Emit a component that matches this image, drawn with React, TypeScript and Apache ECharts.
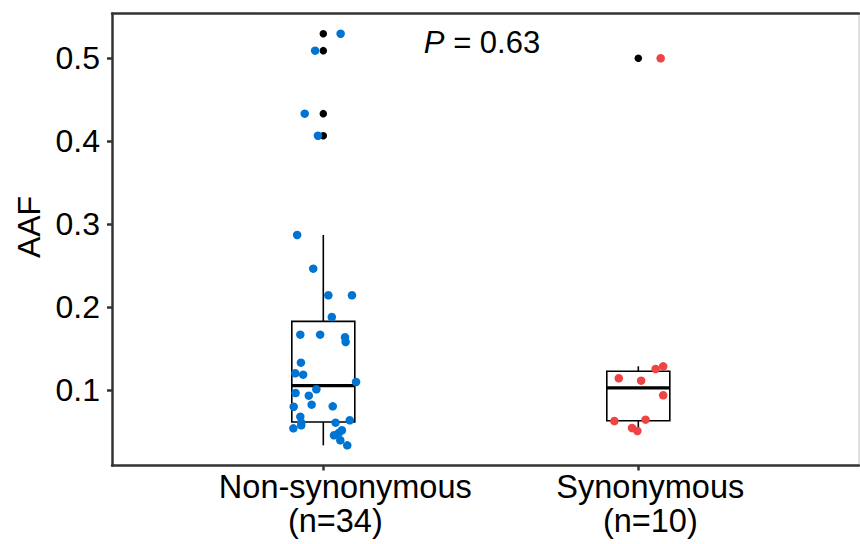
import React, { useEffect, useRef } from 'react';
import * as echarts from 'echarts';

const categories = ['Non-synonymous', 'Synonymous'];
const counts = [34, 10];

// AAF values, with the horizontal jitter offset (in category units) of each point
const nonsynAAF = [
  0.5296, 0.5092, 0.4333, 0.4067, 0.2871, 0.2465, 0.2145, 0.2145, 0.1883, 0.167,
  0.167, 0.1639, 0.1582, 0.1333, 0.1205, 0.1188, 0.11, 0.1012, 0.0967, 0.0935,
  0.0827, 0.0807, 0.0802, 0.0682, 0.0639, 0.061, 0.061, 0.0578, 0.0542, 0.0518,
  0.0486, 0.0458, 0.0398, 0.0337,
];
const nonsynJitter = [
  0.055, -0.026, -0.059, -0.017, -0.083, -0.032, 0.016, 0.091, 0.027, -0.073,
  -0.01, 0.069, 0.071, -0.071, -0.089, -0.064, 0.104, -0.022, -0.088, -0.046,
  -0.037, 0.03, -0.094, -0.073, 0.084, 0.039, -0.07, -0.07, -0.095, 0.059,
  0.049, 0.034, 0.054, 0.076,
];
const synAAF = [0.5, 0.1289, 0.1257, 0.1145, 0.1116, 0.094, 0.0646, 0.063, 0.0546, 0.051];
const synJitter = [0.071, 0.079, 0.055, -0.062, 0.009, 0.079, 0.023, -0.076, -0.02, -0.003];

const yTicks = [0.1, 0.2, 0.3, 0.4, 0.5];
const pValue = '0.63';

const COLORS = ['#0074D2', '#F04343'];
const FONT = 'Liberation Sans, Arial, Helvetica, sans-serif';

function quantile(sorted: number[], p: number) {
  const h = (sorted.length - 1) * p;
  const lo = Math.floor(h);
  const hi = Math.min(lo + 1, sorted.length - 1);
  return sorted[lo] + (h - lo) * (sorted[hi] - sorted[lo]);
}

function boxStats(values: number[]) {
  const s = [...values].sort((a, b) => a - b);
  const q1 = quantile(s, 0.25);
  const med = quantile(s, 0.5);
  const q3 = quantile(s, 0.75);
  const iqr = q3 - q1;
  const lf = q1 - 1.5 * iqr;
  const hf = q3 + 1.5 * iqr;
  const inside = s.filter((v) => v >= lf && v <= hf);
  const outliers = s.filter((v) => v < lf || v > hf);
  return { lo: inside[0], q1, med, q3, hi: inside[inside.length - 1], outliers };
}

export default function App() {
  const ref = useRef<HTMLDivElement>(null);
  useEffect(() => {
    if (!ref.current) return;
    const chart = echarts.init(ref.current, null, { renderer: 'svg' });
    const groups = [nonsynAAF, synAAF];
    const jitters = [nonsynJitter, synJitter];
    const stats = groups.map(boxStats);
    const boxData = stats.map((st, i) => [i + 1, st.lo, st.q1, st.med, st.q3, st.hi]);
    const outlierData: number[][] = [];
    stats.forEach((st, i) => st.outliers.forEach((v) => outlierData.push([i + 1, v])));

    const xMin = 0.3292;
    const xMax = 2.7006;
    const yMin = 0.0094;
    const yMax = 0.5537;
    const LH = 34;

    const option: any = {
      animation: false,
      backgroundColor: '#ffffff',
      textStyle: { fontFamily: FONT },
      grid: { left: 112, right: 1, top: 13.7, bottom: 78.5 },
      xAxis: [
        {
          type: 'value',
          min: xMin,
          max: xMax,
          splitLine: { show: false },
          axisLine: { show: true, onZero: false, lineStyle: { color: '#333333', width: 2.5 } },
          axisTick: { show: true, length: 5, lineStyle: { color: '#333333', width: 2.5 }, customValues: [1, 2] },
          axisLabel: {
            customValues: [1, 2],
            margin: 4,
            color: '#000',
            fontSize: 32,
            fontFamily: FONT,
            formatter: (v: number) => {
              const i = Math.round(v) - 1;
              if (i === 0) return `{a|${categories[0]}}\n{b|(n=${counts[0]})}`;
              return `{c|${categories[1]}}\n{c|(n=${counts[1]})}`;
            },
            rich: {
              a: { fontSize: 32.5, fontFamily: FONT, color: '#000', lineHeight: LH, padding: [0, 0, 0, 44] },
              b: { fontSize: 32.5, fontFamily: FONT, color: '#000', lineHeight: LH, padding: [0, 0, 0, 24] },
              c: { fontSize: 32.5, fontFamily: FONT, color: '#000', lineHeight: LH, padding: [0, 0, 0, 24] },
            },
          },
        },
        {
          type: 'value',
          position: 'top',
          min: xMin,
          max: xMax,
          splitLine: { show: false },
          axisLine: { show: true, onZero: false, lineStyle: { color: '#333333', width: 2.5 } },
          axisTick: { show: false },
          axisLabel: { show: false },
        },
      ],
      yAxis: [
        {
          type: 'value',
          min: yMin,
          max: yMax,
          splitLine: { show: false },
          axisLine: { show: true, onZero: false, lineStyle: { color: '#333333', width: 2.5 } },
          axisTick: { show: true, length: 5, lineStyle: { color: '#333333', width: 2.5 }, customValues: yTicks },
          axisLabel: {
            customValues: yTicks,
            margin: 12,
            color: '#000',
            fontSize: 32,
            fontFamily: FONT,
            formatter: (v: number) => v.toFixed(1),
          },
        },
        {
          type: 'value',
          position: 'right',
          min: yMin,
          max: yMax,
          splitLine: { show: false },
          axisLine: { show: true, onZero: false, lineStyle: { color: '#d4d4d4', width: 1.5 } },
          axisTick: { show: false },
          axisLabel: { show: false },
        },
      ],
      graphic: [
        {
          type: 'text',
          x: 29,
          y: 227,
          rotation: Math.PI / 2,
          style: { text: 'AAF', fontSize: 32, fontFamily: FONT, fill: '#000', align: 'center', verticalAlign: 'middle' },
        },
        {
          type: 'text',
          x: 482,
          y: 42,
          style: {
            text: `{i|P} = ${pValue}`,
            fontSize: 31,
            fontFamily: FONT,
            fill: '#000',
            align: 'center',
            verticalAlign: 'middle',
            rich: { i: { fontStyle: 'italic', fontSize: 31, fontFamily: FONT, fill: '#000' } },
          },
        },
      ],
      series: [
        {
          type: 'custom',
          xAxisIndex: 0,
          yAxisIndex: 0,
          data: boxData,
          encode: { x: 0, y: [1, 2, 3, 4, 5] },
          z: 1,
          renderItem: (params: any, api: any) => {
            const x = api.value(0);
            const pLo = api.coord([x, api.value(1)]);
            const pQ1 = api.coord([x, api.value(2)]);
            const pMed = api.coord([x, api.value(3)]);
            const pQ3 = api.coord([x, api.value(4)]);
            const pHi = api.coord([x, api.value(5)]);
            const half = api.size([0.2, 0])[0] / 2;
            const cx = pMed[0];
            const ls = { stroke: '#000', lineWidth: 1.6 };
            return {
              type: 'group',
              children: [
                { type: 'line', shape: { x1: cx, y1: pHi[1], x2: cx, y2: pQ3[1] }, style: ls },
                { type: 'line', shape: { x1: cx, y1: pQ1[1], x2: cx, y2: pLo[1] }, style: ls },
                {
                  type: 'rect',
                  shape: { x: cx - half, y: pQ3[1], width: half * 2, height: pQ1[1] - pQ3[1] },
                  style: { fill: '#fff', stroke: '#000', lineWidth: 1.6 },
                },
                { type: 'line', shape: { x1: cx - half, y1: pMed[1], x2: cx + half, y2: pMed[1] }, style: { stroke: '#000', lineWidth: 3.2 } },
              ],
            };
          },
        },
        {
          type: 'scatter',
          data: outlierData,
          symbolSize: 7.5,
          itemStyle: { color: '#000', opacity: 1 },
          z: 2,
        },
        {
          type: 'scatter',
          data: nonsynAAF.map((v, i) => [1 + jitters[0][i], v]),
          symbolSize: 8.5,
          itemStyle: { color: COLORS[0], opacity: 1 },
          z: 3,
        },
        {
          type: 'scatter',
          data: synAAF.map((v, i) => [2 + jitters[1][i], v]),
          symbolSize: 8.5,
          itemStyle: { color: COLORS[1], opacity: 1 },
          z: 3,
        },
      ],
    };
    chart.setOption(option);
    return () => chart.dispose();
  }, []);
  return <div ref={ref} style={{ position: 'absolute', left: 0, top: 0, width: 860, height: 544 }} />;
}
